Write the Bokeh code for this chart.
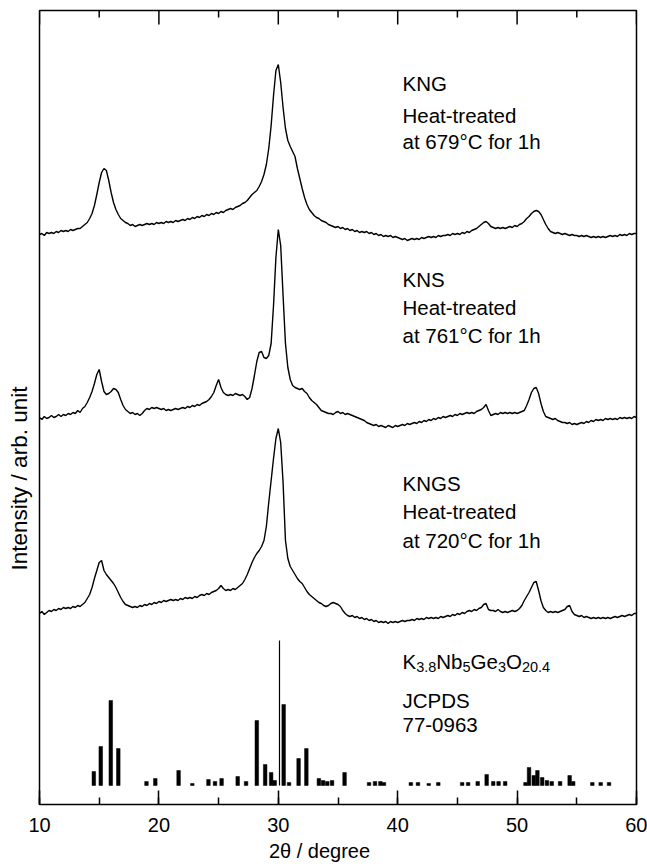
import numpy as np
from bokeh.plotting import figure
from bokeh.models import (Range1d, LinearAxis, SingleIntervalTicker, FixedTicker,
                          ColumnDataSource)
from bokeh.core.properties import value
from bokeh.embed import file_html
from bokeh.resources import INLINE

# ---------------- data ----------------
two_theta = np.round(np.linspace(10, 60, 251), 1)  # 0.2 degree sampling grid

kng = [
    16, 17, 15, 18, 17,  18, 17, 19, 18, 20,  19, 20, 19, 21, 20,  21, 22, 22, 24, 26,
    28, 32, 37, 45, 56,  68, 78, 82, 80, 70,  58, 48, 41, 36, 32,  30, 28, 27, 25, 26,
    24, 25, 26, 25, 26,  27, 26, 27, 26, 28,  27, 28, 27, 29, 28,  29, 28, 30, 29, 30,
    31, 30, 32, 31, 33,  32, 34, 33, 35, 34,  36, 35, 37, 36, 38,  37, 39, 38, 40, 41,
    42, 41, 43, 44, 45,  47, 48, 50, 53, 56,  58, 60, 64, 69, 76,  86, 102, 125, 155, 180,
    186, 168, 143, 122, 110,  104, 99, 94, 82, 72,  62, 53, 46, 41, 38,  35, 33, 32, 30, 29,
    28, 26, 25, 24, 23,  24, 22, 23, 21, 22,  20, 21, 19, 20, 18,  19, 18, 19, 17, 18,
    16, 17, 15, 16, 14,  15, 14, 15, 13, 14,  13, 12, 11, 12, 10,  11, 12, 11, 12, 11,
    13, 12, 13, 14, 13,  14, 13, 15, 14, 15,  15, 16, 15, 17, 16,  17, 16, 18, 17, 19,
    18, 20, 21, 22, 24,  26, 28, 29, 27, 24,  23, 22, 23, 22, 23,  22, 23, 24, 23, 25,
    24, 26, 27, 29, 32,  34, 37, 39, 40, 39,  36, 31, 26, 22, 19,  18, 17, 18, 17, 16,
    17, 16, 15, 16, 15,  15, 14, 15, 14, 15,  14, 13, 14, 13, 14,  13, 14, 13, 14, 15,
    14, 15, 14, 16, 15,  16, 15, 17, 16, 17,  17,
]

kns = [
    18, 16, 19, 17, 18,  20, 18, 19, 21, 19,  21, 20, 22, 21, 23,  22, 25, 23, 27, 29,
    33, 38, 44, 52, 61,  66, 54, 44, 41, 42,  44, 47, 46, 43, 36,  30, 26, 24, 22, 23,
    21, 22, 20, 22, 25,  27, 26, 28, 27, 28,  27, 26, 27, 25, 26,  25, 26, 27, 26, 27,
    28, 27, 29, 28, 30,  29, 31, 30, 32, 33,  34, 36, 39, 43, 50,  56, 48, 43, 41, 40,
    41, 40, 42, 41, 40,  41, 39, 36, 38, 47,  60, 74, 83, 84, 78,  77, 80, 92, 130, 178,
    206, 190, 140, 92, 68,  56, 50, 48, 47, 46,  47, 44, 42, 38, 35,  33, 31, 28, 25, 24,
    23, 22, 22, 21, 23,  24, 22, 23, 21, 22,  21, 20, 19, 18, 17,  16, 15, 13, 12, 11,
    10, 11, 9, 10, 9,  8, 10, 9, 8, 10,  9, 10, 11, 10, 12,  11, 12, 13, 12, 14,
    13, 15, 14, 16, 15,  17, 16, 18, 17, 19,  18, 19, 20, 19, 21,  20, 22, 21, 22, 23,
    22, 23, 22, 24, 25,  26, 28, 31, 25, 20,  21, 22, 21, 23, 22,  23, 22, 23, 22, 23,
    22, 23, 24, 25, 30,  36, 43, 47, 48, 42,  32, 24, 19, 18, 17,  16, 17, 15, 14, 13,
    13, 12, 13, 11, 12,  11, 12, 13, 12, 14,  13, 15, 14, 16, 15,  16, 15, 17, 16, 17,
    16, 17, 16, 18, 17,  18, 17, 18, 17, 19,  18,
]

kngs = [
    17, 19, 16, 18, 20,  19, 21, 20, 22, 21,  23, 22, 23, 22, 24,  23, 25, 24, 26, 28,
    32, 36, 43, 52, 60,  68, 70, 60, 56, 53,  50, 47, 43, 38, 33,  29, 26, 25, 24, 23,
    24, 23, 25, 24, 26,  25, 27, 26, 28, 27,  29, 28, 30, 29, 30,  31, 30, 31, 30, 32,
    31, 33, 32, 33, 32,  34, 33, 35, 36, 35,  37, 36, 38, 39, 40,  42, 45, 42, 40, 41,
    40, 42, 41, 43, 45,  47, 51, 56, 62, 68,  73, 77, 80, 84, 90,  104, 128, 150, 172, 192,
    202, 188, 148, 90, 72,  64, 60, 56, 52, 49,  47, 43, 39, 36, 34,  32, 30, 28, 27, 25,
    24, 25, 27, 28, 27,  26, 24, 20, 17, 15,  14, 15, 13, 14, 12,  13, 11, 12, 10, 11,
    9, 10, 8, 9, 8,  9, 7, 9, 8, 9,  8, 9, 10, 9, 10,  10, 11, 10, 12, 11,
    12, 11, 13, 12, 13,  12, 13, 12, 14, 13,  14, 15, 14, 16, 15,  17, 16, 18, 17, 19,
    20, 19, 21, 20, 22,  23, 26, 27, 21, 20,  20, 19, 21, 19, 18,  19, 18, 19, 20, 19,
    20, 22, 25, 30, 34,  38, 43, 48, 49, 40,  30, 23, 20, 18, 19,  18, 19, 18, 19, 20,
    21, 24, 25, 19, 16,  15, 14, 15, 13, 14,  13, 12, 13, 12, 13,  12, 13, 12, 13, 12,
    13, 14, 13, 14, 15,  14, 15, 16, 15, 17,  17,
]

jcpds_pos = [14.55, 15.13, 15.97, 16.6, 18.96, 19.7, 21.65, 22.8, 24.15, 24.7,
             25.25, 26.6, 27.3, 28.2, 28.9, 29.4, 29.7, 30.1, 30.45, 30.9,
             31.7, 32.35, 33.4, 33.75, 34.1, 34.5, 35.55, 37.6, 38.1, 38.55,
             38.85, 41.1, 41.7, 42.6, 43.4, 45.4, 45.9, 46.7, 47.45, 48.0,
             48.45, 49.0, 50.7, 51.0, 51.4, 51.7, 52.1, 52.5, 52.9, 53.6,
             54.4, 54.7, 56.3, 57.0, 57.7]
jcpds_int = [14, 39, 85, 37, 4, 7, 15, 2, 6, 4,
             7, 9, 4, 65, 21, 13, 5, 145, 81, 3,
             27, 37, 7, 5, 4, 5, 13, 3, 4, 4,
             3, 3, 3, 2, 3, 3, 3, 4, 11, 4,
             4, 4, 3, 18, 10, 15, 8, 5, 4, 4,
             10, 4, 3, 3, 3]

x_major_ticks = [10, 20, 30, 40, 50, 60]
x_minor_ticks = [15, 25, 35, 45, 55]
x_label = "2θ / degree"
y_label = "Intensity / arb. unit"

labels = [
    ["KNG", "Heat-treated", "at 679°C for 1h"],
    ["KNS", "Heat-treated", "at 761°C for 1h"],
    ["KNGS", "Heat-treated", "at 720°C for 1h"],
]

# ---------------- figure ----------------
FONT = "Liberation Sans"
Y_TOP = 794
p = figure(width=647, height=866, x_range=Range1d(10, 60), y_range=Range1d(0, Y_TOP),
           output_backend="svg", toolbar_location=None, title=None,
           x_axis_location=None, y_axis_location=None)
p.min_border_left = 39
p.min_border_right = 11
p.min_border_top = 10
p.min_border_bottom = 62
p.outline_line_color = "black"
p.outline_line_width = 1.5
p.grid.visible = False
p.background_fill_color = "white"
p.border_fill_color = "white"

xb = LinearAxis(ticker=SingleIntervalTicker(interval=10, num_minor_ticks=2))
xb.axis_line_color = None
xb.major_tick_in = 14
xb.major_tick_out = 0
xb.minor_tick_in = 7
xb.minor_tick_out = 0
xb.major_tick_line_color = "black"
xb.minor_tick_line_color = "black"
xb.major_tick_line_width = 1.5
xb.minor_tick_line_width = 1.5
xb.major_label_text_font = FONT
xb.major_label_text_font_size = "20px"
xb.major_label_text_color = "black"
xb.major_label_standoff = 13
p.add_layout(xb, "below")

# axis titles, carried as single labelled ticks so they sit where the reference has them
X_TITLE_AT = 33.45
Y_TITLE_AT = 326
xt = LinearAxis(ticker=FixedTicker(ticks=[X_TITLE_AT]),
                major_label_overrides={X_TITLE_AT: x_label})
yt = LinearAxis(ticker=FixedTicker(ticks=[Y_TITLE_AT]),
                major_label_overrides={Y_TITLE_AT: y_label},
                major_label_orientation="vertical")
for ax, fs, so in ((xt, "20px", 5), (yt, "22.5px", 8)):
    ax.axis_line_color = None
    ax.major_tick_in = 0
    ax.major_tick_out = 0
    ax.minor_tick_in = 0
    ax.minor_tick_out = 0
    ax.major_label_text_font = FONT
    ax.major_label_text_font_size = fs
    ax.major_label_text_color = "black"
    ax.major_label_standoff = so
p.add_layout(xt, "below")
p.add_layout(yt, "left")

# top inward ticks (mirror of the bottom axis ticks)
p.segment(x0=x_major_ticks, x1=x_major_ticks, y0=[Y_TOP] * len(x_major_ticks),
          y1=[Y_TOP - 14] * len(x_major_ticks), line_color="black", line_width=1.5)
p.segment(x0=x_minor_ticks, x1=x_minor_ticks, y0=[Y_TOP] * len(x_minor_ticks),
          y1=[Y_TOP - 7] * len(x_minor_ticks), line_color="black", line_width=1.5)

# stacked patterns (vertical offsets in plot units)
offsets = [554, 369, 174]
for series, off in zip([kng, kns, kngs], offsets):
    p.line(two_theta, np.array(series) + off, line_color="black", line_width=1.4)

# JCPDS reference bars
jc_off = 19
pos = np.array(jcpds_pos)
inten = np.array(jcpds_int)
strongest = inten == inten.max()
p.vbar(x=pos[~strongest], bottom=jc_off, top=inten[~strongest] + jc_off, width=0.3,
       fill_color="black", line_color="black", line_width=0.5)
p.segment(x0=pos[strongest], y0=jc_off, x1=pos[strongest], y1=inten[strongest] + jc_off,
          line_color="black", line_width=1.2)

# annotation text
text_x = 40.4
base_lines = [[721, 689, 663], [525, 497, 469], [321, 293, 264]]
tx, ty, tt = [], [], []
for lab, ys in zip(labels, base_lines):
    for s, yv in zip(lab, ys):
        tx.append(text_x)
        ty.append(yv)
        tt.append(s)
tx += [text_x, text_x]
ty += [104, 80]
tt += ["JCPDS", "77-0963"]
p.text(x=tx, y=ty, text=tt, text_font=value(FONT), text_font_size="20.5px",
       text_color="black", text_baseline="alphabetic", text_align="left")

# chemical formula with subscripts
W = {'K': 0.667, 'N': 0.722, 'b': 0.556, 'G': 0.778, 'e': 0.556, 'O': 0.778, '.': 0.278}
for d in "0123456789":
    W[d] = 0.556
pieces = [("K", False), ("3.8", True), ("Nb", False), ("5", True),
          ("Ge", False), ("3", True), ("O", False), ("20.4", True)]
main_fs, sub_fs = 20.5, 14.5
fx, fy, ft, fo, fs = [], [], [], [], []
cur = 0.0
for s, sub in pieces:
    size = sub_fs if sub else main_fs
    fx.append(text_x)
    fy.append(143 - (5 if sub else 0))
    ft.append(s)
    fo.append(cur)
    fs.append(f"{size}px")
    cur += sum(W.get(c, 0.556) for c in s) * size
src = ColumnDataSource(dict(x=fx, y=fy, text=ft, xo=fo, fs=fs))
p.text(x="x", y="y", text="text", x_offset="xo", text_font_size="fs", source=src,
       text_font=value(FONT), text_color="black", text_baseline="alphabetic",
       text_align="left")

open("out.html", "w").write(file_html(p, INLINE))
